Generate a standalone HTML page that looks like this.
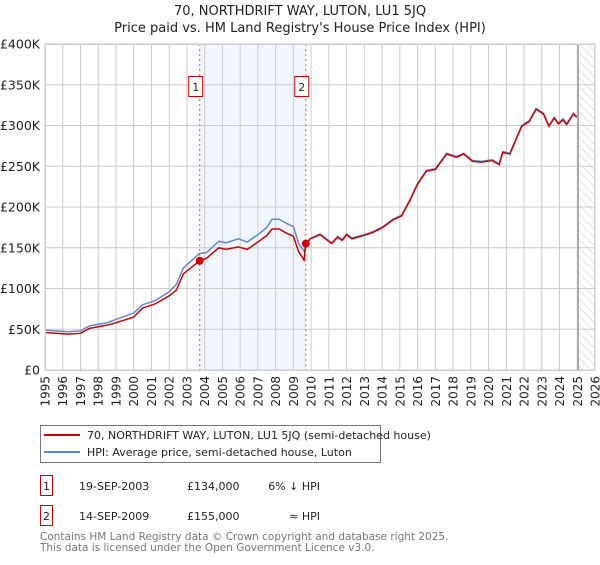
<!DOCTYPE html>
<html><head><meta charset="utf-8"><style>
body{margin:0;background:#fff;font-family:"Liberation Sans","DejaVu Sans",sans-serif;}
svg text{font-family:"DejaVu Sans","Liberation Sans",sans-serif;}
</style></head><body>
<svg id="chart" width="600" height="560" xmlns="http://www.w3.org/2000/svg">
<defs><pattern id="hatch" width="6" height="6" patternUnits="userSpaceOnUse" patternTransform="rotate(-45)"><line x1="0" y1="0" x2="0" y2="6" stroke="#bbb" stroke-width="0.8"/></pattern></defs>
<text x="300" y="15" text-anchor="middle" font-size="13" fill="#222">70, NORTHDRIFT WAY, LUTON, LU1 5JQ</text>
<text x="300" y="32" text-anchor="middle" font-size="13" fill="#222">Price paid vs. HM Land Registry's House Price Index (HPI)</text>
<g id="plot"></g>
<g>
<rect x="40.5" y="425.5" width="340" height="37" fill="#fff" stroke="#777"/>
<line x1="44" y1="435" x2="80" y2="435" stroke="#cc0000" stroke-width="2"/>
<text x="87" y="439" font-size="11" fill="#222">70, NORTHDRIFT WAY, LUTON, LU1 5JQ (semi-detached house)</text>
<line x1="44" y1="452" x2="80" y2="452" stroke="#5b8bd0" stroke-width="2"/>
<text x="87" y="456" font-size="11" fill="#222">HPI: Average price, semi-detached house, Luton</text>
</g>
<g font-size="11" fill="#222">
<rect x="40.5" y="475.5" width="12" height="20" fill="#fff" stroke="#cc0000"/>
<text x="46.5" y="490" text-anchor="middle">1</text>
<text x="79" y="490">19-SEP-2003</text><text x="187" y="490">£134,000</text><text x="320" y="490" text-anchor="end">6% ↓ HPI</text>
</g>
<g font-size="11" fill="#222">
<rect x="40.5" y="505.5" width="12" height="20" fill="#fff" stroke="#cc0000"/>
<text x="46.5" y="520" text-anchor="middle">2</text>
<text x="79" y="520">14-SEP-2009</text><text x="187" y="520">£155,000</text><text x="320" y="520" text-anchor="end">≈ HPI</text>
</g>
<text x="40" y="540" font-size="10.5" fill="#777">Contains HM Land Registry data © Crown copyright and database right 2025.</text>
<text x="40" y="551" font-size="10.5" fill="#777">This data is licensed under the Open Government Licence v3.0.</text>
</svg>
<script>
const hpiYears=[1995,1996.3,1997,1997.5,1998.5,1999,2000,2000.5,2001.2,2002,2002.4,2002.8,2003.7,2004.1,2004.8,2005.2,2005.9,2006.4,2007,2007.5,2007.8,2008.2,2008.6,2009,2009.3,2009.6,2009.94,2010.5,2011.16,2011.5,2011.75,2012,2012.3,2013.13,2013.5,2014.05,2014.6,2015.1,2015.57,2016,2016.5,2017,2017.64,2018.2,2018.6,2019.1,2019.6,2020.2,2020.6,2020.8,2021.2,2021.87,2022.3,2022.68,2023.1,2023.4,2023.7,2023.94,2024.2,2024.4,2024.78,2024.97];
const hpiValues=[49,47,48,54,58,62,70,80,85,96,105,125,143,144,158,156,161,157,166,175,185,185,180,176,155,146,161,167,156,164,160,167,162,167,170,176,185,190,209,229,245,247,266,262,266,257,256,258,253,268,266,300,306,321,315,300,310,303,308,302,315,311];
const redYears=[1995,1996.3,1997,1997.5,1998.5,1999,2000,2000.5,2001.2,2002,2002.4,2002.8,2003.72,2004.1,2004.8,2005.2,2005.9,2006.4,2007,2007.5,2007.8,2008.2,2008.6,2009,2009.3,2009.6,2009.7,2009.94,2010.5,2011.16,2011.5,2011.75,2012,2012.3,2013.13,2013.5,2014.05,2014.6,2015.1,2015.57,2016,2016.5,2017,2017.64,2018.2,2018.6,2019.1,2019.6,2020.2,2020.6,2020.8,2021.2,2021.87,2022.3,2022.68,2023.1,2023.4,2023.7,2023.94,2024.2,2024.4,2024.78,2024.97];
const redValues=[46,44,45,51,55,58,65,76,81,91,98,118,134,137,150,148,151,148,157,165,173,173,168,164,145,135,155,161,166,155,163,159,166,161,166,169,175,184,189,208,228,244,246,265,261,265,256,255,257,252,267,265,299,305,320,314,299,309,302,307,301,314,310];
const sales=[{label:"1",year:2003.72,value:134},{label:"2",year:2009.7,value:155}];
const yTicks=[0,50,100,150,200,250,300,350,400];
const yTickLabels=["£0","£50K","£100K","£150K","£200K","£250K","£300K","£350K","£400K"];
const xTicks=[1995,1996,1997,1998,1999,2000,2001,2002,2003,2004,2005,2006,2007,2008,2009,2010,2011,2012,2013,2014,2015,2016,2017,2018,2019,2020,2021,2022,2023,2024,2025,2026];

const L=45,R=595,T=44,B=370;
const x=y=>L+(y-1995)/(2026-1995)*(R-L);
const yv=v=>B-v/400*(B-T);
const NS="http://www.w3.org/2000/svg";
const g=document.getElementById('plot');
function mk(tag,attrs,parent){const e=document.createElementNS(NS,tag);for(const k in attrs)e.setAttribute(k,attrs[k]);(parent||g).appendChild(e);return e;}
let e;
e=mk('rect',{x:x(sales[0].year),y:T,width:x(sales[1].year)-x(sales[0].year),height:B-T,fill:'#eef3fc',opacity:0.8});


e=mk('rect',{x:x(2025.05),y:T,width:R-x(2025.05),height:B-T,fill:'url(#hatch)'});


xTicks.forEach((t,i)=>{
 e=mk('line',{x1:x(t),x2:x(t),y1:T,y2:B,stroke:'#ccc','stroke-width':1});
 
 
 e=mk('text',{transform:`translate(${x(t)+4.5},${B+6}) rotate(-90)`,'text-anchor':'end','font-size':12,fill:'#222'});
 e.textContent=t;
 
 
});
yTicks.forEach((t,i)=>{
 e=mk('line',{x1:L,x2:R,y1:yv(t),y2:yv(t),stroke:'#ccc','stroke-width':1});
 
 
 e=mk('text',{x:L-5,y:yv(t)+4.5,'text-anchor':'end','font-size':12.5,fill:'#222'});
 e.textContent=yTickLabels[i];
 
 
});
e=mk('line',{x1:x(2025.05),x2:x(2025.05),y1:T,y2:B,stroke:'#888','stroke-width':1.2});


sales.forEach(s=>{
 e=mk('line',{x1:x(s.year),x2:x(s.year),y1:T,y2:B,stroke:'#e55','stroke-width':1,'stroke-dasharray':'2,3'});
 
 
});
e=mk('polyline',{points:hpiYears.map((t,i)=>x(t)+','+yv(hpiValues[i])).join(' '),fill:'none',stroke:'#5b8bd0','stroke-width':1.5});


e=mk('polyline',{points:redYears.map((t,i)=>x(t)+','+yv(redValues[i])).join(' '),fill:'none',stroke:'#cc0000','stroke-width':1.5});


sales.forEach(s=>{
 e=mk('circle',{cx:x(s.year),cy:yv(s.value),r:4,fill:'#cc0000'});
 
 
 const bx=x(s.year)-4;
 const grp=mk('g',{});
 
 
 mk('rect',{x:bx-7,y:76.5,width:14,height:20,fill:'#fff',stroke:'#cc0000'},grp);
 const tx=mk('text',{x:bx,y:91,'text-anchor':'middle','font-size':11,fill:'#222'},grp);
 tx.textContent=s.label;
});
e=mk('rect',{x:L+0.5,y:T+0.5,width:R-L-1,height:B-T,fill:'none',stroke:'#ccc'});


</script>
</body></html>
